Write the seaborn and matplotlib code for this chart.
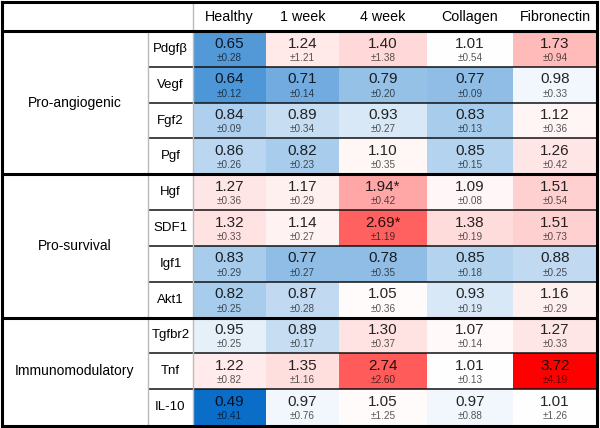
import numpy as np
import pandas as pd
import matplotlib
matplotlib.use("Agg")
import matplotlib.pyplot as plt
import seaborn as sns
from matplotlib.colors import LinearSegmentedColormap

genes = ['Pdgfβ', 'Vegf', 'Fgf2', 'Pgf', 'Hgf', 'SDF1', 'Igf1', 'Akt1', 'Tgfbr2', 'Tnf', 'IL-10']
conditions = ['Healthy', '1 week', '4 week', 'Collagen', 'Fibronectin']
groups = ['Pro-angiogenic', 'Pro-survival', 'Immunomodulatory']
group_sizes = [4, 4, 3]

healthy_mean = [0.65, 0.64, 0.84, 0.86, 1.27, 1.32, 0.83, 0.82, 0.95, 1.22, 0.49]
week1_mean = [1.24, 0.71, 0.89, 0.82, 1.17, 1.14, 0.77, 0.87, 0.89, 1.35, 0.97]
week4_mean = [1.40, 0.79, 0.93, 1.10, 1.94, 2.69, 0.78, 1.05, 1.30, 2.74, 1.05]
collagen_mean = [1.01, 0.77, 0.83, 0.85, 1.09, 1.38, 0.85, 0.93, 1.07, 1.01, 0.97]
fibronectin_mean = [1.73, 0.98, 1.12, 1.26, 1.51, 1.51, 0.88, 1.16, 1.27, 3.72, 1.01]

healthy_sd = [0.28, 0.12, 0.09, 0.26, 0.36, 0.33, 0.29, 0.25, 0.25, 0.82, 0.41]
week1_sd = [1.21, 0.14, 0.34, 0.23, 0.29, 0.27, 0.27, 0.28, 0.17, 1.16, 0.76]
week4_sd = [1.38, 0.20, 0.27, 0.35, 0.42, 1.19, 0.35, 0.36, 0.37, 2.60, 1.25]
collagen_sd = [0.54, 0.09, 0.13, 0.15, 0.08, 0.19, 0.18, 0.19, 0.14, 0.13, 0.88]
fibronectin_sd = [0.94, 0.33, 0.36, 0.42, 0.54, 0.73, 0.25, 0.29, 0.33, 4.19, 1.26]

week4_sig = ['', '', '', '', '*', '*', '', '', '', '', '']

means = pd.DataFrame({'Healthy': healthy_mean, '1 week': week1_mean, '4 week': week4_mean,
                      'Collagen': collagen_mean, 'Fibronectin': fibronectin_mean}, index=genes)
sds = pd.DataFrame({'Healthy': healthy_sd, '1 week': week1_sd, '4 week': week4_sd,
                    'Collagen': collagen_sd, 'Fibronectin': fibronectin_sd}, index=genes)
sig = pd.DataFrame({c: [''] * len(genes) for c in conditions}, index=genes)
sig['4 week'] = week4_sig

plt.rcParams['font.family'] = ['Liberation Sans', 'DejaVu Sans']

vmin, vmax = 0.49, 3.72
mid = (1.0 - vmin) / (vmax - vmin)
cmap = LinearSegmentedColormap.from_list('bwr_custom', [(0, '#0a6ec8'), (mid, '#ffffff'), (1, '#ff0000')])

W, H = 600, 428
fig = plt.figure(figsize=(6, 4.28), dpi=100)
fig.patch.set_facecolor('white')

col_edges = [193, 266, 339, 427, 513, 597]
top, bottom = 31, 425
nrows = len(genes)

for j, cond in enumerate(conditions):
    x0, x1 = col_edges[j], col_edges[j + 1]
    ax = fig.add_axes([x0 / W, 1 - bottom / H, (x1 - x0) / W, (bottom - top) / H])
    sns.heatmap(means[[cond]], ax=ax, cmap=cmap, vmin=vmin, vmax=vmax, cbar=False,
                xticklabels=False, yticklabels=False)
    ax.set_xlabel('')
    ax.set_ylabel('')
    for i, g in enumerate(genes):
        ax.text(0.5, i + 0.35, f"{means.loc[g, cond]:.2f}{sig.loc[g, cond]}", ha='center', va='center',
                fontsize=11, color='black', alpha=0.85)
        ax.text(0.5, i + 0.75, f"±{sds.loc[g, cond]:.2f}", ha='center', va='center',
                fontsize=7.2, color='black', alpha=0.65)

# overlay axes in pixel coordinates for table frame & labels
ov = fig.add_axes([0, 0, 1, 1], facecolor='none')
ov.set_xlim(0, W)
ov.set_ylim(H, 0)
ov.axis('off')

row_h = (bottom - top) / nrows
row_y = [top + k * row_h for k in range(nrows + 1)]

# header labels
for j, cond in enumerate(conditions):
    ov.text((col_edges[j] + col_edges[j + 1]) / 2, 17, cond, ha='center', va='center', fontsize=10.3)

# gene labels
for i, g in enumerate(genes):
    ov.text(170.5, (row_y[i] + row_y[i + 1]) / 2, g, ha='center', va='center', fontsize=9.5)

# group labels and separators
start = 0
group_bounds = []
for gname, n in zip(groups, group_sizes):
    y0, y1 = row_y[start], row_y[start + n]
    ov.text(75, (y0 + y1) / 2, gname, ha='center', va='center', fontsize=10)
    group_bounds.append((start, start + n))
    start += n

# thin row separators
for (s, e) in group_bounds:
    for k in range(s + 1, e):
        ov.plot([148, 597], [row_y[k], row_y[k]], color='#111111', lw=1.1, solid_capstyle='butt')

# gray verticals
ov.plot([148, 148], [top, 426], color='#bbbbbb', lw=1.0)
ov.plot([193, 193], [2, 426], color='#bbbbbb', lw=1.0)

# thick lines
thick = 2.2
for (s, e) in group_bounds[:-1]:
    ov.plot([2, 597], [row_y[e], row_y[e]], color='black', lw=thick, solid_capstyle='butt')
ov.plot([2, 597], [top, top], color='black', lw=thick, solid_capstyle='butt')
ov.plot([2, 597, 597, 2, 2], [2, 2, 426, 426, 2], color='black', lw=thick, solid_joinstyle='miter')

fig.savefig('out.png', dpi=100, facecolor='white')
